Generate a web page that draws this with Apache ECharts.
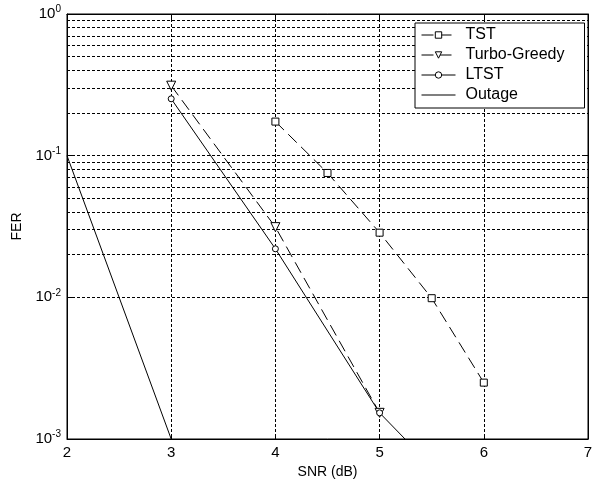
<!DOCTYPE html>
<html>
<head>
<meta charset="utf-8">
<script src="https://cdn.jsdelivr.net/npm/echarts@6/dist/echarts.min.js"></script>
<style>html,body{margin:0;padding:0;background:#fff;}#c{width:597px;height:484px;}</style>
</head>
<body>
<div id="c"></div>
<script>
const xTicks = [2, 3, 4, 5, 6, 7];
const tstX = [4, 4.5, 5, 5.5, 6];
const tstY = [0.174, 0.0755, 0.0286, 0.00986, 0.0025];
const tgX = [3, 4, 5];
const tgY = [0.312, 0.0313, 0.00153];
const ltstX = [3, 4, 5, 5.5];
const ltstY = [0.252, 0.022, 0.00153, 0.00064];
const outX = [2, 3];
const outY = [0.1, 0.001];
const minorGrid = [0.002,0.003,0.004,0.005,0.006,0.007,0.008,0.009,
                   0.02,0.03,0.04,0.05,0.06,0.07,0.08,0.09,
                   0.2,0.3,0.4,0.5,0.6,0.7,0.8,0.9];

const zip = (xs, ys) => xs.map((x, i) => [x, ys[i]]);
const font = 'Liberation Sans, Arial, sans-serif';
const gridDash = {color: '#000', width: 1, type: [3, 2]};

const chart = echarts.init(document.getElementById('c'));
chart.setOption({
  animation: false,
  backgroundColor: '#fff',
  grid: {left: 67, right: 9, top: 14, bottom: 45, show: true, borderColor: '#000', borderWidth: 1, backgroundColor: 'transparent'},
  legend: {
    orient: 'vertical', left: 415, top: 23, padding: [4, 20, 5, 6],
    itemWidth: 34, itemHeight: 8, itemGap: 4,
    borderColor: '#000', borderWidth: 1, backgroundColor: '#fff',
    z: 100,
    lineStyle: {width: 1},
    itemStyle: {borderWidth: 1},
    textStyle: {fontFamily: font, fontSize: 16, color: '#000', lineHeight: 16, padding: [0, 0, 0, 5]},
    data: [
      {name: 'TST'},
      {name: 'Turbo-Greedy'},
      {name: 'LTST'},
      {name: 'Outage', icon: 'path://M0,0 L34,0 L34,1 L0,1 Z', itemStyle: {color: '#000', borderWidth: 0}}
    ]
  },
  xAxis: [{
    type: 'value', min: 2, max: 7, interval: 1,
    name: 'SNR (dB)', nameLocation: 'middle', nameGap: 22,
    nameTextStyle: {fontFamily: font, fontSize: 14, color: '#000'},
    axisLine: {lineStyle: {color: '#000'}},
    axisTick: {inside: true, length: 5, lineStyle: {color: '#000'}},
    axisLabel: {fontFamily: font, fontSize: 15, color: '#000', margin: 6},
    splitLine: {show: true, lineStyle: gridDash}
  }, {
    type: 'value', min: 2, max: 7, interval: 1, position: 'top',
    axisLine: {lineStyle: {color: '#000'}},
    axisTick: {inside: true, length: 5, lineStyle: {color: '#000'}},
    axisLabel: {show: false}, splitLine: {show: false}
  }],
  yAxis: [{
    type: 'log', logBase: 10, min: 0.001, max: 1,
    name: 'FER', nameLocation: 'middle', nameGap: 36, nameRotate: 90,
    nameTextStyle: {fontFamily: font, fontSize: 14, color: '#000'},
    axisLine: {lineStyle: {color: '#000'}},
    axisTick: {inside: true, length: 5, lineStyle: {color: '#000'}},
    axisLabel: {
      margin: 6,
      formatter: v => '{b|10}{s|' + Math.round(Math.log10(v)) + '}',
      rich: {
        b: {fontFamily: font, fontSize: 15, color: '#000'},
        s: {fontFamily: font, fontSize: 10, color: '#000', verticalAlign: 'bottom', padding: [0, 0, 9, 0]}
      }
    },
    splitLine: {show: true, lineStyle: gridDash}
  }, {
    type: 'log', logBase: 10, min: 0.001, max: 1, position: 'right',
    axisLine: {lineStyle: {color: '#000'}},
    axisTick: {inside: true, length: 5, lineStyle: {color: '#000'}},
    axisLabel: {show: false}, splitLine: {show: false}
  }],
  series: [{
    name: 'TST', type: 'line', data: zip(tstX, tstY),
    symbol: 'rect', symbolSize: 7, showAllSymbol: true,
    itemStyle: {color: '#fff', borderColor: '#000', borderWidth: 1},
    lineStyle: {color: '#000', width: 1, type: [12, 6]},
    markLine: {
      silent: true, symbol: 'none', label: {show: false},
      lineStyle: gridDash, z: 1,
      data: minorGrid.map(v => ({yAxis: v}))
    },
    z: 3
  }, {
    name: 'Turbo-Greedy', type: 'line', data: zip(tgX, tgY),
    symbol: 'triangle', symbolRotate: 180, symbolSize: 9,
    itemStyle: {color: '#fff', borderColor: '#000', borderWidth: 1},
    lineStyle: {color: '#000', width: 1, type: [12, 6]}, z: 3
  }, {
    name: 'LTST', type: 'line', data: zip(ltstX, ltstY),
    symbol: 'circle', symbolSize: 6,
    itemStyle: {color: '#fff', borderColor: '#000', borderWidth: 1},
    lineStyle: {color: '#000', width: 1, type: 'solid'}, z: 3
  }, {
    name: 'Outage', type: 'line', data: zip(outX, outY),
    symbol: 'none',
    itemStyle: {color: '#000'},
    lineStyle: {color: '#000', width: 1, type: 'solid'}, z: 3
  }]
});
</script>
</body>
</html>
